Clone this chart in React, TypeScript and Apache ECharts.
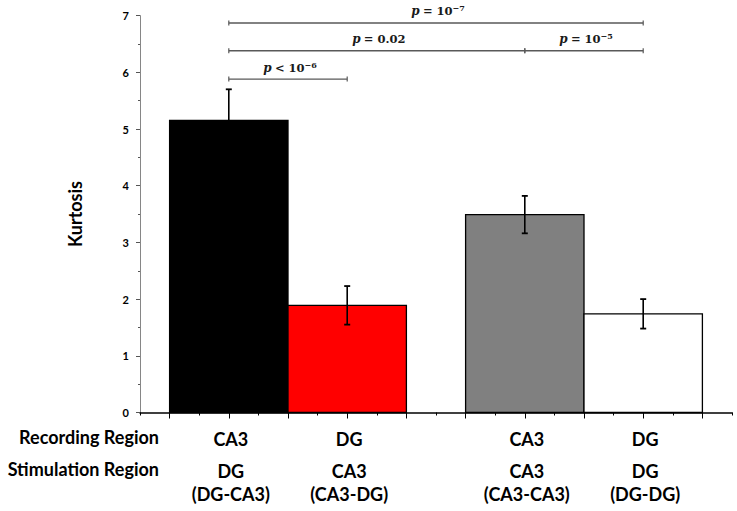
import React, { useEffect, useRef } from "react";
import * as echarts from "echarts";

const recordingRegions = ["CA3", "DG", "CA3", "DG"];
const stimulationRegions = ["DG", "CA3", "CA3", "DG"];
const stimulationPairs = ["(DG-CA3)", "(CA3-DG)", "(CA3-CA3)", "(DG-DG)"];
const barPositions = [3, 7, 13, 17];
const kurtosisMeans = [5.15, 1.89, 3.49, 1.74];
const kurtosisErrors = [0.55, 0.34, 0.33, 0.26];
const barColors = ["#000000", "#ff0000", "#808080", "#ffffff"];

const bracketStart = [0, 0, 2, 0];
const bracketEnd = [3, 2, 3, 1];
const bracketLevels = [6.87, 6.38, 6.38, 5.88];
const bracketRelations = ["= 10", "= 0.02", "= 10", "< 10"];
const bracketExponents = ["−7", "", "−5", "−6"];

const rowHeaders = ["Recording Region", "Stimulation Region"];

const SANS = "Lato, 'Open Sans', sans-serif";
const SERIF = "'DejaVu Serif', 'Liberation Serif', serif";

export default function App() {
  const ref = useRef<HTMLDivElement>(null);

  useEffect(() => {
    document.body.style.margin = "0";
    if (!ref.current) return;
    const chart = echarts.init(ref.current, undefined, { renderer: "svg" });

    const barData = barPositions.map((p, i) => [p, kurtosisMeans[i], kurtosisErrors[i], i]);
    const bracketData = bracketStart.map((s, i) => [
      barPositions[s],
      barPositions[bracketEnd[i]],
      bracketLevels[i],
      i,
    ]);
    const labelData = barPositions.map((p, i) => [p, i]);

    const option: any = {
      animation: false,
      backgroundColor: "#ffffff",
      grid: { left: 140, right: 5, top: 15.6, bottom: 98.5 },
      xAxis: {
        type: "value",
        min: 0,
        max: 20,
        interval: 2,
        axisLine: { show: true, lineStyle: { color: "#000000", width: 1.5 } },
        axisTick: { show: true, length: 3, lineStyle: { color: "#000000", width: 1 } },
        minorTick: { show: true, splitNumber: 2, length: 6, lineStyle: { color: "#000000", width: 1 } },
        axisLabel: { show: false },
        splitLine: { show: false },
        minorSplitLine: { show: false },
      },
      yAxis: {
        type: "value",
        min: 0,
        max: 7,
        interval: 1,
        name: "Kurtosis",
        nameLocation: "middle",
        nameGap: 56,
        nameRotate: 90,
        nameTextStyle: { fontFamily: SANS, fontSize: 18, fontWeight: "bold", color: "#000000" },
        axisLine: { show: true, lineStyle: { color: "#868686", width: 1 } },
        axisTick: { show: true, length: 4, lineStyle: { color: "#555555", width: 1 } },
        minorTick: { show: true, splitNumber: 2, length: 2, lineStyle: { color: "#555555", width: 1 } },
        axisLabel: { fontFamily: SANS, fontSize: 11, fontWeight: "bold", color: "#000000", margin: 11 },
        splitLine: { show: false },
        minorSplitLine: { show: false },
      },
      graphic: rowHeaders.map((t, i) => ({
        type: "text",
        right: 737 - 159,
        top: i === 0 ? 428 : 460,
        style: {
          text: t,
          fontFamily: SANS,
          fontSize: 18,
          fontWeight: "bold",
          fill: "#000000",
        },
      })),
      series: [
        {
          type: "custom",
          name: "bars",
          clip: false,
          data: barData,
          renderItem: (params: any, api: any) => {
            const x = api.value(0);
            const v = api.value(1);
            const e = api.value(2);
            const idx = api.value(3);
            const tl = api.coord([x - 2, v]);
            const br = api.coord([x + 2, 0]);
            const top = api.coord([x, v + e]);
            const bot = api.coord([x, v - e]);
            const cap = 3;
            return {
              type: "group",
              children: [
                {
                  type: "rect",
                  shape: { x: tl[0], y: tl[1], width: br[0] - tl[0], height: br[1] - tl[1] },
                  style: { fill: barColors[idx], stroke: "#000000", lineWidth: 1.3 },
                },
                {
                  type: "line",
                  shape: { x1: top[0], y1: top[1], x2: bot[0], y2: bot[1] },
                  style: { stroke: "#000000", lineWidth: 1.6 },
                },
                {
                  type: "line",
                  shape: { x1: top[0] - cap, y1: top[1], x2: top[0] + cap, y2: top[1] },
                  style: { stroke: "#000000", lineWidth: 1.8 },
                },
                {
                  type: "line",
                  shape: { x1: bot[0] - cap, y1: bot[1], x2: bot[0] + cap, y2: bot[1] },
                  style: { stroke: "#000000", lineWidth: 1.8 },
                },
              ],
            };
          },
        },
        {
          type: "custom",
          name: "brackets",
          clip: false,
          data: bracketData,
          renderItem: (params: any, api: any) => {
            const a = api.coord([api.value(0), api.value(2)]);
            const b = api.coord([api.value(1), api.value(2)]);
            const i = api.value(3);
            const sup = bracketExponents[i];
            const txt = "{p|p} {n|" + bracketRelations[i] + "}" + (sup ? "{s|" + sup + "}" : "");
            return {
              type: "group",
              children: [
                {
                  type: "line",
                  shape: { x1: a[0], y1: a[1], x2: b[0], y2: b[1] },
                  style: { stroke: "#595959", lineWidth: 1.4 },
                },
                {
                  type: "line",
                  shape: { x1: a[0], y1: a[1] - 2.5, x2: a[0], y2: a[1] + 2.5 },
                  style: { stroke: "#595959", lineWidth: 1.2 },
                },
                {
                  type: "line",
                  shape: { x1: b[0], y1: b[1] - 2.5, x2: b[0], y2: b[1] + 2.5 },
                  style: { stroke: "#595959", lineWidth: 1.2 },
                },
                {
                  type: "text",
                  x: (a[0] + b[0]) / 2 + 2,
                  y: a[1] - 11.5,
                  style: {
                    text: txt,
                    align: "center",
                    verticalAlign: "middle",
                    fill: "#1a1a1a",
                    rich: {
                      p: { fontFamily: SERIF, fontSize: 12, fontWeight: "bold", fontStyle: "italic", lineHeight: 14, fill: "#1a1a1a" },
                      n: { fontFamily: SERIF, fontSize: 11.5, fontWeight: "bold", lineHeight: 14, fill: "#1a1a1a" },
                      s: { fontFamily: SERIF, fontSize: 8, fontWeight: "bold", lineHeight: 8, verticalAlign: "top", fill: "#1a1a1a" },
                    },
                  },
                },
              ],
            };
          },
        },
        {
          type: "custom",
          name: "regionLabels",
          clip: false,
          data: labelData,
          renderItem: (params: any, api: any) => {
            const p = api.coord([api.value(0), 0]);
            const i = api.value(1);
            const base = { fontFamily: SANS, fontSize: 18, fontWeight: "bold", fill: "#000000", align: "center", verticalAlign: "middle" };
            return {
              type: "group",
              children: [
                { type: "text", x: p[0] + 2, y: p[1] + 26.5, style: { ...base, text: recordingRegions[i] } },
                { type: "text", x: p[0] + 2, y: p[1] + 58.5, style: { ...base, text: stimulationRegions[i] } },
                { type: "text", x: p[0] + 2, y: p[1] + 81.5, style: { ...base, text: stimulationPairs[i] } },
              ],
            };
          },
        },
      ],
    };

    chart.setOption(option);
    return () => chart.dispose();
  }, []);

  return <div ref={ref} style={{ width: 737, height: 511 }} />;
}
